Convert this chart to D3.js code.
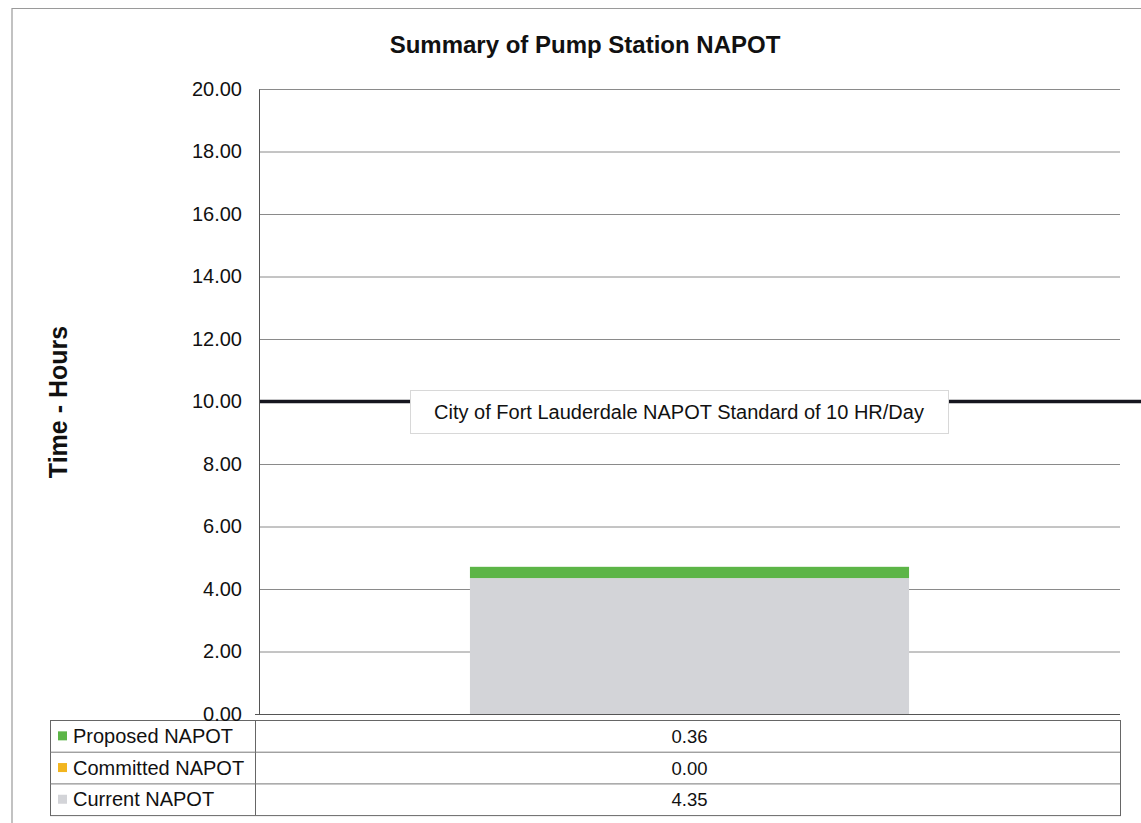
<!DOCTYPE html>
<html>
<head>
<meta charset="utf-8">
<script src="https://cdn.jsdelivr.net/npm/d3@7"></script>
<style>
  body { margin: 0; background: #fff; }
  svg { display: block; font-family: "Liberation Sans", Arial, sans-serif; }
</style>
</head>
<body>
<svg id="chart" width="1141" height="823"></svg>
<script>
const categories = ["Pump Station"];
const seriesNames = ["Current NAPOT", "Committed NAPOT", "Proposed NAPOT"];
const currentValues = [4.35];
const committedValues = [0.00];
const proposedValues = [0.36];
const seriesColors = ["#d3d4d8", "#f2b51f", "#5cb547"];
const yTicks = [0, 2, 4, 6, 8, 10, 12, 14, 16, 18, 20];
const standardValue = 10;
const standardLabel = "City of Fort Lauderdale NAPOT Standard of 10 HR/Day";
const titleText = "Summary of Pump Station NAPOT";
const yTitle = "Time - Hours";

const svg = d3.select("#chart");
const plotL = 259, plotR = 1120, plotT = 89, plotB = 714;

// outer border (left + top visible)
svg.append("path").attr("d", "M12,823 L12,8.5 L1141,8.5")
  .attr("fill", "none").attr("stroke", "#9a9a9a").attr("stroke-width", 1.2);

const y = d3.scaleLinear().domain([0, 20]).range([plotB, plotT]);
const x = d3.scaleBand().domain(categories).range([plotL, plotR]).paddingInner(0.49).paddingOuter(0.245);

// gridlines
svg.append("g").selectAll("line").data(yTicks.filter(d => d > 0)).join("line")
  .attr("x1", plotL).attr("x2", plotR)
  .attr("y1", d => y(d) + 0.5).attr("y2", d => y(d) + 0.5)
  .attr("stroke", "#8a8a8a").attr("stroke-width", 1);

// y axis
const yAxis = d3.axisLeft(y).tickValues(yTicks).tickFormat(d3.format(".2f")).tickSize(0).tickPadding(17);
const gy = svg.append("g").attr("transform", `translate(${plotL},0)`).call(yAxis);
gy.select(".domain").attr("stroke", "#555").attr("stroke-width", 1);
gy.selectAll("text").attr("font-size", 20).attr("fill", "#111").attr("font-family", "'Liberation Sans', Arial, sans-serif");

// stacked bars
const stackData = categories.map((c, i) => ({
  cat: c, "Current NAPOT": currentValues[i], "Committed NAPOT": committedValues[i], "Proposed NAPOT": proposedValues[i]
}));
const stack = d3.stack().keys(seriesNames)(stackData);
svg.append("g").selectAll("g").data(stack).join("g")
  .attr("fill", (d, i) => seriesColors[i])
  .selectAll("rect").data(d => d).join("rect")
  .attr("x", d => x(d.data.cat))
  .attr("width", x.bandwidth())
  .attr("y", d => y(d[1]))
  .attr("height", d => Math.max(0, y(d[0]) - y(d[1])));

// x axis line
svg.append("line").attr("x1", 255).attr("x2", plotR).attr("y1", plotB + 0.5).attr("y2", plotB + 0.5)
  .attr("stroke", "#555").attr("stroke-width", 1);

// standard line
svg.append("line").attr("x1", plotL).attr("x2", 1141)
  .attr("y1", y(standardValue)).attr("y2", y(standardValue))
  .attr("stroke", "#16161f").attr("stroke-width", 3.5);

// standard label box
const lbX = 410, lbW = 538, lbY = 390, lbH = 43;
svg.append("rect").attr("x", lbX + 0.5).attr("y", lbY + 0.5).attr("width", lbW).attr("height", lbH)
  .attr("fill", "#fff").attr("stroke", "#d8d8d8").attr("stroke-width", 1);
svg.append("text").attr("x", lbX + lbW / 2).attr("y", lbY + lbH / 2 + 7)
  .attr("text-anchor", "middle").attr("font-size", 20).attr("fill", "#111").text(standardLabel);

// title
svg.append("text").attr("x", 585).attr("y", 53).attr("text-anchor", "middle")
  .attr("font-size", 24).attr("font-weight", "bold").attr("fill", "#111").text(titleText);

// y title
svg.append("text").attr("transform", `translate(67,402) rotate(-90)`).attr("text-anchor", "middle")
  .attr("font-size", 25).attr("font-weight", "bold").attr("fill", "#111").text(yTitle);

// data table
const tblL = 50, tblDiv = 255, tblR = 1120, tblT = 720, rowH = 31.7;
const tableRows = ["Proposed NAPOT", "Committed NAPOT", "Current NAPOT"];
const tableVals = [proposedValues[0], committedValues[0], currentValues[0]];
const tableColors = [seriesColors[2], seriesColors[1], seriesColors[0]];
const tg = svg.append("g");
tg.append("rect").attr("x", tblL + 0.5).attr("y", tblT + 0.5).attr("width", tblR - tblL).attr("height", rowH * 3)
  .attr("fill", "none").attr("stroke", "#666").attr("stroke-width", 1);
tg.append("line").attr("x1", tblDiv + 0.5).attr("x2", tblDiv + 0.5).attr("y1", tblT).attr("y2", tblT + rowH * 3)
  .attr("stroke", "#666");
[1, 2].forEach(i => tg.append("line").attr("x1", tblL).attr("x2", tblR)
  .attr("y1", tblT + rowH * i + 0.5).attr("y2", tblT + rowH * i + 0.5).attr("stroke", "#777"));
tableRows.forEach((name, i) => {
  const cy = tblT + rowH * i + rowH / 2;
  tg.append("rect").attr("x", 58).attr("y", cy - 4.5).attr("width", 9).attr("height", 9).attr("fill", tableColors[i]);
  tg.append("text").attr("x", 73).attr("y", cy + 7).attr("font-size", 20).attr("fill", "#111").text(name);
  tg.append("text").attr("x", x(categories[0]) + x.bandwidth() / 2).attr("y", cy + 7)
    .attr("text-anchor", "middle").attr("font-size", 18.5).attr("fill", "#111").text(d3.format(".2f")(tableVals[i]));
});
// re-raise the 0.00 label above the table
gy.raise();
</script>
</body>
</html>
